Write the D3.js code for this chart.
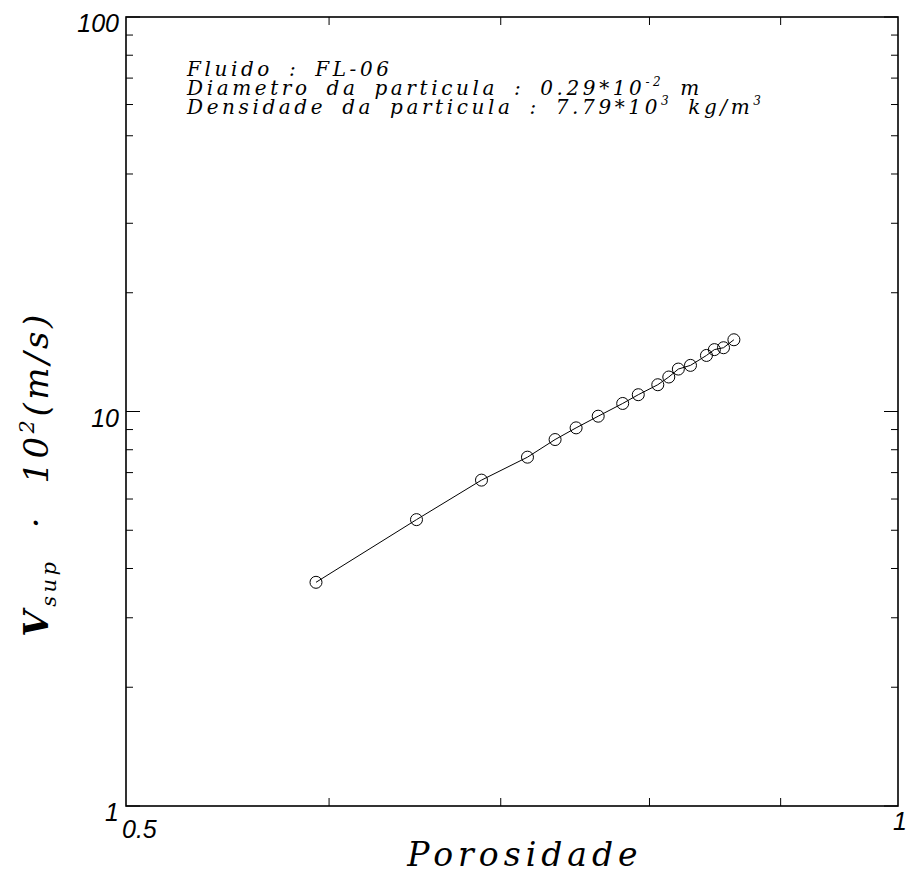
<!DOCTYPE html>
<html>
<head>
<meta charset="utf-8">
<script src="https://cdn.jsdelivr.net/npm/d3@7"></script>
<style>
  body { margin: 0; background: #fff; }
  text { fill: #000; }
</style>
</head>
<body>
<svg id="chart" width="907" height="879"></svg>
<script>
// data (porosity vs superficial velocity * 10^2)
var porosidade = [0.593, 0.649, 0.688, 0.717, 0.735, 0.749, 0.764, 0.781, 0.792, 0.806, 0.814, 0.821, 0.830, 0.842, 0.848, 0.855, 0.863];
var velocidade = [3.69, 5.32, 6.70, 7.66, 8.49, 9.09, 9.73, 10.48, 11.03, 11.69, 12.23, 12.81, 13.09, 13.87, 14.35, 14.51, 15.20];
var xDomain = [0.5, 1];
var yDomain = [1, 100];
var xTicks = [0.6, 0.7, 0.8, 0.9];
var xLabels = ["0.5", "1"];
var yLabels = ["1", "10", "100"];
var info = ["Fluido : FL-06", "Diametro da particula : 0.29*10", "Densidade da particula : 7.79*10"];

var svg = d3.select("#chart"),
    m = {left: 126, right: 898, top: 17, bottom: 806};

var x = d3.scaleLog().domain(xDomain).range([m.left, m.right]),
    y = d3.scaleLog().domain(yDomain).range([m.bottom, m.top]);

// frame
svg.append("rect")
    .attr("x", m.left).attr("y", m.top)
    .attr("width", m.right - m.left).attr("height", m.bottom - m.top)
    .attr("fill", "none").attr("stroke", "#000").attr("stroke-width", 1.6);

// y ticks (left + right, inward)
var yTicks = [];
[1, 10].forEach(function(d) { for (var k = 1; k < 10; k++) yTicks.push(d * k); });
yTicks.push(100);
yTicks.forEach(function(v) {
  var major = (v === 1 || v === 10 || v === 100),
      len = major ? 14 : 7;
  svg.append("line").attr("x1", m.left).attr("x2", m.left + len)
      .attr("y1", y(v)).attr("y2", y(v)).attr("stroke", "#000");
  svg.append("line").attr("x1", m.right).attr("x2", m.right - len)
      .attr("y1", y(v)).attr("y2", y(v)).attr("stroke", "#000");
});

// x ticks (bottom + top, inward)
xTicks.forEach(function(v) {
  svg.append("line").attr("x1", x(v)).attr("x2", x(v))
      .attr("y1", m.bottom).attr("y2", m.bottom - 8).attr("stroke", "#000");
  svg.append("line").attr("x1", x(v)).attr("x2", x(v))
      .attr("y1", m.top).attr("y2", m.top + 8).attr("stroke", "#000");
});

// tick labels
var tickFont = "Liberation Sans, sans-serif";
svg.selectAll(".ylab").data(yLabels).enter().append("text")
    .attr("x", m.left - 7)
    .attr("y", function(d) { return y(+d) + 15; })
    .attr("text-anchor", "end")
    .style("font-family", tickFont).style("font-style", "italic")
    .style("font-size", "25px")
    .text(function(d) { return d; });

svg.append("text")
    .attr("x", x(0.5) - 4).attr("y", m.bottom + 32)
    .style("font-family", tickFont).style("font-style", "italic")
    .style("font-size", "25px").text(xLabels[0]);
svg.append("text")
    .attr("x", x(1) - 5).attr("y", m.bottom + 24)
    .style("font-family", tickFont).style("font-style", "italic")
    .style("font-size", "25px").text(xLabels[1]);

// fitted line and points
var line = d3.line()
    .x(function(d, i) { return x(porosidade[i]); })
    .y(function(d) { return y(d); });

svg.append("path")
    .datum(velocidade)
    .attr("d", line)
    .attr("fill", "none").attr("stroke", "#000").attr("stroke-width", 1);

svg.selectAll(".pt").data(velocidade).enter().append("circle")
    .attr("cx", function(d, i) { return x(porosidade[i]); })
    .attr("cy", function(d) { return y(d); })
    .attr("r", 6)
    .attr("fill", "none").attr("stroke", "#000").attr("stroke-width", 1);

// annotation
var serif = "DejaVu Serif, serif";
var ann = svg.append("g")
    .style("font-family", serif).style("font-style", "italic").style("font-size", "20px")
    .style("letter-spacing", "3.6px").style("word-spacing", "6px");
ann.append("text").attr("x", 187).attr("y", 76).text(info[0]);
var t2 = ann.append("text").attr("x", 187).attr("y", 95);
t2.append("tspan").text(info[1]);
t2.append("tspan").attr("dy", -9).style("font-size", "12px").text("-2");
t2.append("tspan").attr("dy", 9).text(" m");
var t3 = ann.append("text").attr("x", 187).attr("y", 114);
t3.append("tspan").text(info[2]);
t3.append("tspan").attr("dy", -9).style("font-size", "12px").text("3");
t3.append("tspan").attr("dy", 9).text(" kg/m");
t3.append("tspan").attr("dy", -9).style("font-size", "12px").text("3");

// axis titles
svg.append("text")
    .attr("x", 525).attr("y", 866)
    .attr("text-anchor", "middle")
    .style("font-family", serif).style("font-style", "italic")
    .style("font-size", "33px").style("letter-spacing", "5px")
    .text("Porosidade");

var yt = svg.append("text")
    .attr("transform", "translate(48,474) rotate(-90)")
    .attr("text-anchor", "middle")
    .style("font-family", serif).style("font-style", "italic")
    .style("font-size", "34px").style("letter-spacing", "3.5px")
    .style("word-spacing", "16px");
yt.append("tspan").style("font-weight", "bold").text("V");
yt.append("tspan").attr("dy", 8).style("font-size", "21px").text("sup");
yt.append("tspan").attr("dy", -8).text(" \u00b7 10");
yt.append("tspan").attr("dy", -14).style("font-size", "21px").text("2");
yt.append("tspan").attr("dy", 14).text("(m/s)");
</script>
</body>
</html>
